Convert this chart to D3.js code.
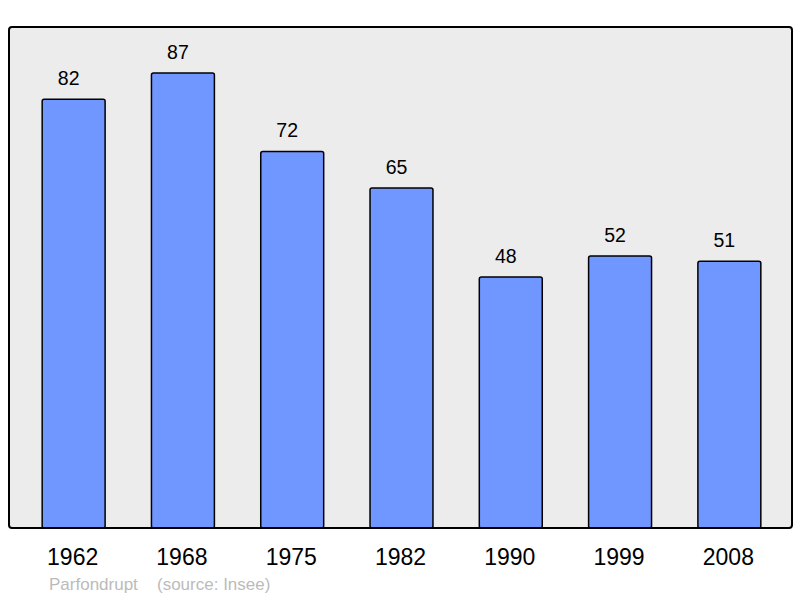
<!DOCTYPE html>
<html>
<head>
<meta charset="utf-8">
<script src="https://cdn.jsdelivr.net/npm/d3@7"></script>
<style>
  body { margin: 0; background: #fff; }
  text { font-family: "Liberation Sans", Arial, sans-serif; }
</style>
</head>
<body>
<svg id="chart" width="800" height="598"></svg>
<script>
// population by census year
const years = ["1962", "1968", "1975", "1982", "1990", "1999", "2008"];
const population = [82, 87, 72, 65, 48, 52, 51];
const commune = "Parfondrupt";
const source = "(source: Insee)";

const svg = d3.select("#chart");

const frame = {left: 9, top: 27, right: 792, bottom: 528};

// plot background
svg.append("rect")
    .attr("x", frame.left)
    .attr("y", frame.top)
    .attr("width", frame.right - frame.left)
    .attr("height", frame.bottom - frame.top)
    .attr("rx", 3)
    .attr("fill", "#ececec");

const x = d3.scaleBand()
    .domain(years)
    .range([19, 784])
    .paddingInner(0.424)
    .paddingOuter(0.212);

const y = d3.scaleLinear()
    .domain([0, 87])
    .range([frame.bottom, 73]);

const bars = svg.append("g")
    .selectAll("g")
    .data(years.map((yr, i) => ({year: yr, value: population[i]})))
    .join("g");

bars.append("rect")
    .attr("x", d => x(d.year))
    .attr("y", d => y(d.value))
    .attr("width", x.bandwidth())
    .attr("height", d => frame.bottom - y(d.value))
    .attr("rx", 2)
    .attr("fill", "#7096ff")
    .attr("stroke", "#000")
    .attr("stroke-width", 1.5);

// value labels sit a little left of the bar centre
bars.append("text")
    .attr("x", d => x(d.year) + x.bandwidth() / 2 - 5)
    .attr("y", d => y(d.value) - 14)
    .attr("text-anchor", "middle")
    .attr("font-size", 19.5)
    .attr("fill", "#000")
    .text(d => d.value);

// frame border drawn over bars
svg.append("rect")
    .attr("x", frame.left)
    .attr("y", frame.top)
    .attr("width", frame.right - frame.left)
    .attr("height", frame.bottom - frame.top)
    .attr("rx", 3)
    .attr("fill", "none")
    .attr("stroke", "#000")
    .attr("stroke-width", 2);

// x axis labels
svg.append("g")
    .selectAll("text")
    .data(years)
    .join("text")
    .attr("x", d => x(d) + x.bandwidth() / 2 - 1)
    .attr("y", 565)
    .attr("text-anchor", "middle")
    .attr("font-size", 23)
    .attr("fill", "#000")
    .text(d => d);

svg.append("text")
    .attr("x", 49)
    .attr("y", 590)
    .attr("font-size", 17)
    .attr("fill", "#bbbbbb")
    .text(commune);

svg.append("text")
    .attr("x", 157)
    .attr("y", 590)
    .attr("font-size", 17)
    .attr("fill", "#bbbbbb")
    .text(source);
</script>
</body>
</html>
